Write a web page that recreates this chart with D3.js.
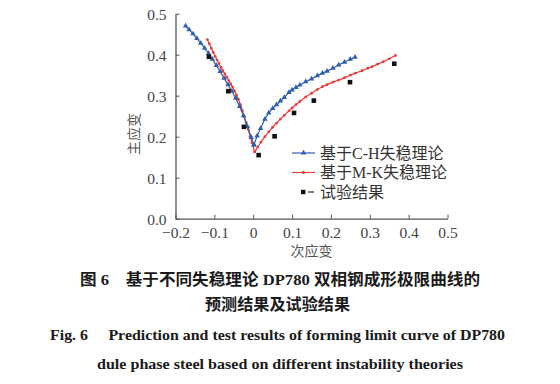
<!DOCTYPE html>
<html>
<head>
<meta charset="utf-8">
<script src="https://cdn.jsdelivr.net/npm/d3@7"></script>
<style>
  body { margin: 0; background: #fff; }
  svg { display: block; }
</style>
</head>
<body>
<svg id="chart" width="560" height="384"></svg>
<script>
// C-H theory curve (left / right branches)
const chLeftX = [-0.174, -0.165, -0.155, -0.145, -0.135, -0.125, -0.115, -0.105, -0.095, -0.085, -0.075, -0.065, -0.055, -0.045, -0.035, -0.025, -0.015, -0.005, 0.002];
const chLeftY = [0.470, 0.461, 0.451, 0.440, 0.428, 0.416, 0.403, 0.389, 0.374, 0.359, 0.343, 0.327, 0.311, 0.294, 0.274, 0.251, 0.225, 0.198, 0.180];
const chRightX = [0.002, 0.010, 0.019, 0.030, 0.040, 0.050, 0.060, 0.070, 0.080, 0.092, 0.100, 0.110, 0.120, 0.135, 0.150, 0.165, 0.178, 0.190, 0.205, 0.220, 0.235, 0.250, 0.262];
const chRightY = [0.180, 0.202, 0.220, 0.243, 0.258, 0.269, 0.278, 0.287, 0.296, 0.308, 0.314, 0.320, 0.326, 0.334, 0.341, 0.349, 0.355, 0.360, 0.367, 0.375, 0.382, 0.389, 0.394];

// M-K theory curve
const mkLeftX = [-0.118, -0.113, -0.108, -0.103, -0.098, -0.093, -0.088, -0.083, -0.078, -0.073, -0.068, -0.063, -0.058, -0.053, -0.048, -0.043, -0.038, -0.033, -0.028, -0.023, -0.018, -0.013, -0.008, -0.003, 0.004];
const mkLeftY = [0.437, 0.427, 0.416, 0.406, 0.396, 0.387, 0.378, 0.369, 0.361, 0.353, 0.345, 0.337, 0.329, 0.321, 0.312, 0.302, 0.291, 0.278, 0.264, 0.249, 0.234, 0.218, 0.201, 0.185, 0.163];
const mkRightX = [0.004, 0.012, 0.020, 0.030, 0.040, 0.050, 0.060, 0.070, 0.080, 0.092, 0.100, 0.110, 0.120, 0.135, 0.150, 0.165, 0.178, 0.190, 0.205, 0.220, 0.235, 0.250, 0.263, 0.280, 0.295, 0.306, 0.320, 0.335, 0.350, 0.366];
const mkRightY = [0.163, 0.175, 0.187, 0.200, 0.212, 0.223, 0.233, 0.243, 0.252, 0.263, 0.270, 0.278, 0.286, 0.297, 0.306, 0.315, 0.322, 0.327, 0.333, 0.338, 0.344, 0.350, 0.355, 0.361, 0.367, 0.371, 0.377, 0.383, 0.390, 0.398];

// test results
const testX = [-0.114, -0.064, -0.024, 0.014, 0.055, 0.105, 0.156, 0.249, 0.363];
const testY = [0.395, 0.311, 0.224, 0.155, 0.201, 0.258, 0.288, 0.333, 0.378];

const xTicks = [-0.2, -0.1, 0, 0.1, 0.2, 0.3, 0.4, 0.5];
const yTicks = [0, 0.1, 0.2, 0.3, 0.4, 0.5];
const legendLabels = ['基于C-H失稳理论', '基于M-K失稳理论', '试验结果'];
const captionLines = [
  '图 6　基于不同失稳理论 DP780 双相钢成形极限曲线的',
  '预测结果及试验结果',
  'Fig. 6　 Prediction and test results of forming limit curve of DP780',
  'dule phase steel based on different instability theories'
];

const blue = '#2f5fae';
const red = '#e63c3c';
const axisColor = '#555';

const svg = d3.select('#chart');
const x = d3.scaleLinear().domain([-0.2, 0.5]).range([175.5, 447.5]);
const y = d3.scaleLinear().domain([0, 0.5]).range([218.7, 13.7]);

const zip = (xs, ys) => xs.map((v, i) => [v, ys[i]]);
const chLeft = zip(chLeftX, chLeftY), chRight = zip(chRightX, chRightY);
const mkLeft = zip(mkLeftX, mkLeftY), mkRight = zip(mkRightX, mkRightY);
const tests = zip(testX, testY);

const fmt = d => d === 0 ? '0' : d3.format('.1f')(d);

// axes, ticks pointing inward
const gx = svg.append('g').attr('transform', `translate(0,${y(0)})`)
  .call(d3.axisBottom(x).tickValues(xTicks).tickFormat(fmt).tickSize(-4).tickSizeOuter(0).tickPadding(8));
const gy = svg.append('g').attr('transform', `translate(${x(-0.2)},0)`)
  .call(d3.axisLeft(y).tickValues(yTicks).tickFormat(d3.format('.1f')).tickSize(-4).tickSizeOuter(0).tickPadding(9));
[gx, gy].forEach(g => {
  g.select('.domain').attr('stroke', axisColor).attr('stroke-width', 1.3);
  g.selectAll('.tick line').attr('stroke', axisColor).attr('stroke-width', 1);
  g.selectAll('.tick text').attr('fill', '#444')
    .style('font-family', '"Liberation Serif", serif').style('font-size', '15.5px');
});
gy.selectAll('.tick text').attr('dy', '0.35em');

svg.append('text').attr('x', x(0.15)).attr('y', 256).attr('text-anchor', 'middle')
  .attr('fill', '#555').style('font-family', '"Noto Sans CJK SC", sans-serif').style('font-size', '14px')
  .text('次应变');
svg.append('text').attr('transform', 'translate(139,134) rotate(-90)').attr('text-anchor', 'middle')
  .attr('fill', '#555').style('font-family', '"Noto Sans CJK SC", sans-serif').style('font-size', '14px')
  .text('主应变');

const line = d3.line().x(d => x(d[0])).y(d => y(d[1]));
const tri = d3.symbol(d3.symbolTriangle).size(13);

// M-K curve
[mkLeft, mkRight].forEach(seg => {
  svg.append('path').datum(seg).attr('d', line).attr('fill', 'none').attr('stroke', red).attr('stroke-width', 1.2);
  svg.append('g').selectAll('circle').data(seg).join('circle')
    .attr('cx', d => x(d[0])).attr('cy', d => y(d[1])).attr('r', 1.4).attr('fill', red);
});

// C-H curve
[chLeft, chRight].forEach(seg => {
  svg.append('path').datum(seg).attr('d', line).attr('fill', 'none').attr('stroke', blue).attr('stroke-width', 1.2);
  svg.append('g').selectAll('path').data(seg).join('path')
    .attr('d', tri).attr('transform', d => `translate(${x(d[0])},${y(d[1])})`).attr('fill', blue);
});

// test points
svg.append('g').selectAll('rect').data(tests).join('rect')
  .attr('x', d => x(d[0]) - 2.3).attr('y', d => y(d[1]) - 2.3)
  .attr('width', 4.6).attr('height', 4.6).attr('fill', '#111');

// legend
const lg = svg.append('g');
const rowY = [153, 172.5, 192];
legendLabels.forEach((lab, i) => {
  const cy = rowY[i];
  if (i === 0) {
    lg.append('line').attr('x1', 292).attr('x2', 315).attr('y1', cy).attr('y2', cy).attr('stroke', blue).attr('stroke-width', 1.2);
    lg.append('path').attr('d', tri).attr('transform', `translate(303.5,${cy})`).attr('fill', blue);
  } else if (i === 1) {
    lg.append('line').attr('x1', 292).attr('x2', 315).attr('y1', cy).attr('y2', cy).attr('stroke', red).attr('stroke-width', 1.2);
    lg.append('circle').attr('cx', 303.5).attr('cy', cy).attr('r', 1.5).attr('fill', red);
  } else {
    lg.append('rect').attr('x', 301).attr('y', cy - 2.2).attr('width', 4.4).attr('height', 4.4).attr('fill', '#111');
    lg.append('line').attr('x1', 308).attr('x2', 314).attr('y1', cy).attr('y2', cy).attr('stroke', '#333').attr('stroke-width', 1.2);
  }
  lg.append('text').attr('x', 320).attr('y', cy + 5.5).attr('fill', '#333')
    .style('font-family', '"Liberation Serif", "Noto Sans CJK SC", serif').style('font-size', '16px')
    .text(lab);
});

// caption
const cap = [
  { y: 285, x0: 80, w: 400, font: '"Liberation Serif", "Noto Sans CJK SC", serif', size: 15.5 },
  { y: 310, x0: 205, w: 145, font: '"Noto Sans CJK SC", sans-serif', size: 15.5 },
  { y: 340, x0: 50, w: 455, font: '"Liberation Serif", serif', size: 15.5 },
  { y: 369, x0: 97, w: 366, font: '"Liberation Serif", serif', size: 15.5 }
];
captionLines.forEach((t, i) => {
  const c = cap[i];
  svg.append('text').attr('x', c.x0).attr('y', c.y).attr('fill', '#1a1a1a')
    .attr('textLength', c.w).attr('lengthAdjust', 'spacingAndGlyphs')
    .style('font-family', c.font).style('font-size', c.size + 'px').style('font-weight', 'bold')
    .text(t);
});
</script>
</body>
</html>
